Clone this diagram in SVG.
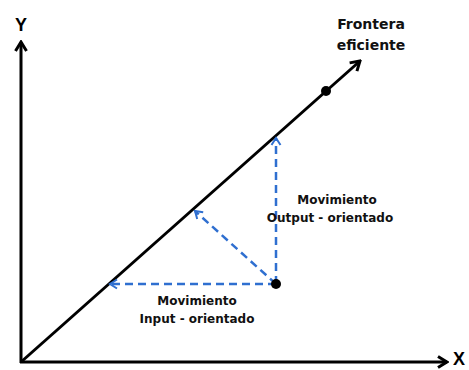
<svg xmlns="http://www.w3.org/2000/svg" width="469" height="370" viewBox="0 0 469 370">
<defs>
<marker id="ab" viewBox="0 0 14 14" refX="12" refY="7" markerWidth="14" markerHeight="14" markerUnits="userSpaceOnUse" orient="auto">
<path d="M3,1.5 L12,7 L3,12.5" fill="none" stroke="#000" stroke-width="3"/>
</marker>
<marker id="au" viewBox="0 0 12 12" refX="10" refY="6" markerWidth="12" markerHeight="12" markerUnits="userSpaceOnUse" orient="auto">
<path d="M3,1.5 L10,6 L3,10.5" fill="none" stroke="#2f6fd0" stroke-width="2"/>
</marker>
</defs>
<style>
.ax{stroke:#000;stroke-width:3;fill:none}
.dash{stroke:#2f6fd0;stroke-width:2.5;stroke-dasharray:8 5;fill:none}
.lb{font-family:"DejaVu Sans",sans-serif;font-weight:bold;font-size:12px;fill:#111;text-anchor:middle}
.big{font-family:"Liberation Sans",sans-serif;font-weight:bold;font-size:18px;fill:#000;text-anchor:middle}
</style>
<g id="connectors">
<line class="ax" x1="21" y1="363" x2="21" y2="42" marker-end="url(#ab)"/>
<line class="ax" x1="20" y1="362" x2="447" y2="362" marker-end="url(#ab)"/>
<line class="ax" x1="21" y1="362" x2="360" y2="61" marker-end="url(#ab)"/>
<line class="dash" x1="276" y1="284" x2="110" y2="284" marker-end="url(#au)"/>
<line class="dash" x1="276" y1="284" x2="276" y2="138" marker-end="url(#au)"/>
<line class="dash" x1="276" y1="284" x2="195" y2="211" marker-end="url(#au)"/>
</g>
<g id="dot-frontier"><circle cx="326" cy="91" r="5" fill="#000"/></g>
<g id="dot-point"><circle cx="276" cy="284" r="5" fill="#000"/></g>
<g id="label-y"><text class="big" x="21" y="31">Y</text></g>
<g id="label-x"><text class="big" x="459" y="365">X</text></g>
<g id="label-frontera"><text class="lb" style="font-size:14px" x="371" y="29">Frontera</text><text class="lb" style="font-size:14px" x="371" y="50">eficiente</text></g>
<g id="label-input"><text class="lb" x="197" y="305">Movimiento</text><text class="lb" x="197" y="323">Input - orientado</text></g>
<g id="label-output"><text class="lb" x="337" y="204">Movimiento</text><text class="lb" x="330" y="222">Output - orientado</text></g>
</svg>
